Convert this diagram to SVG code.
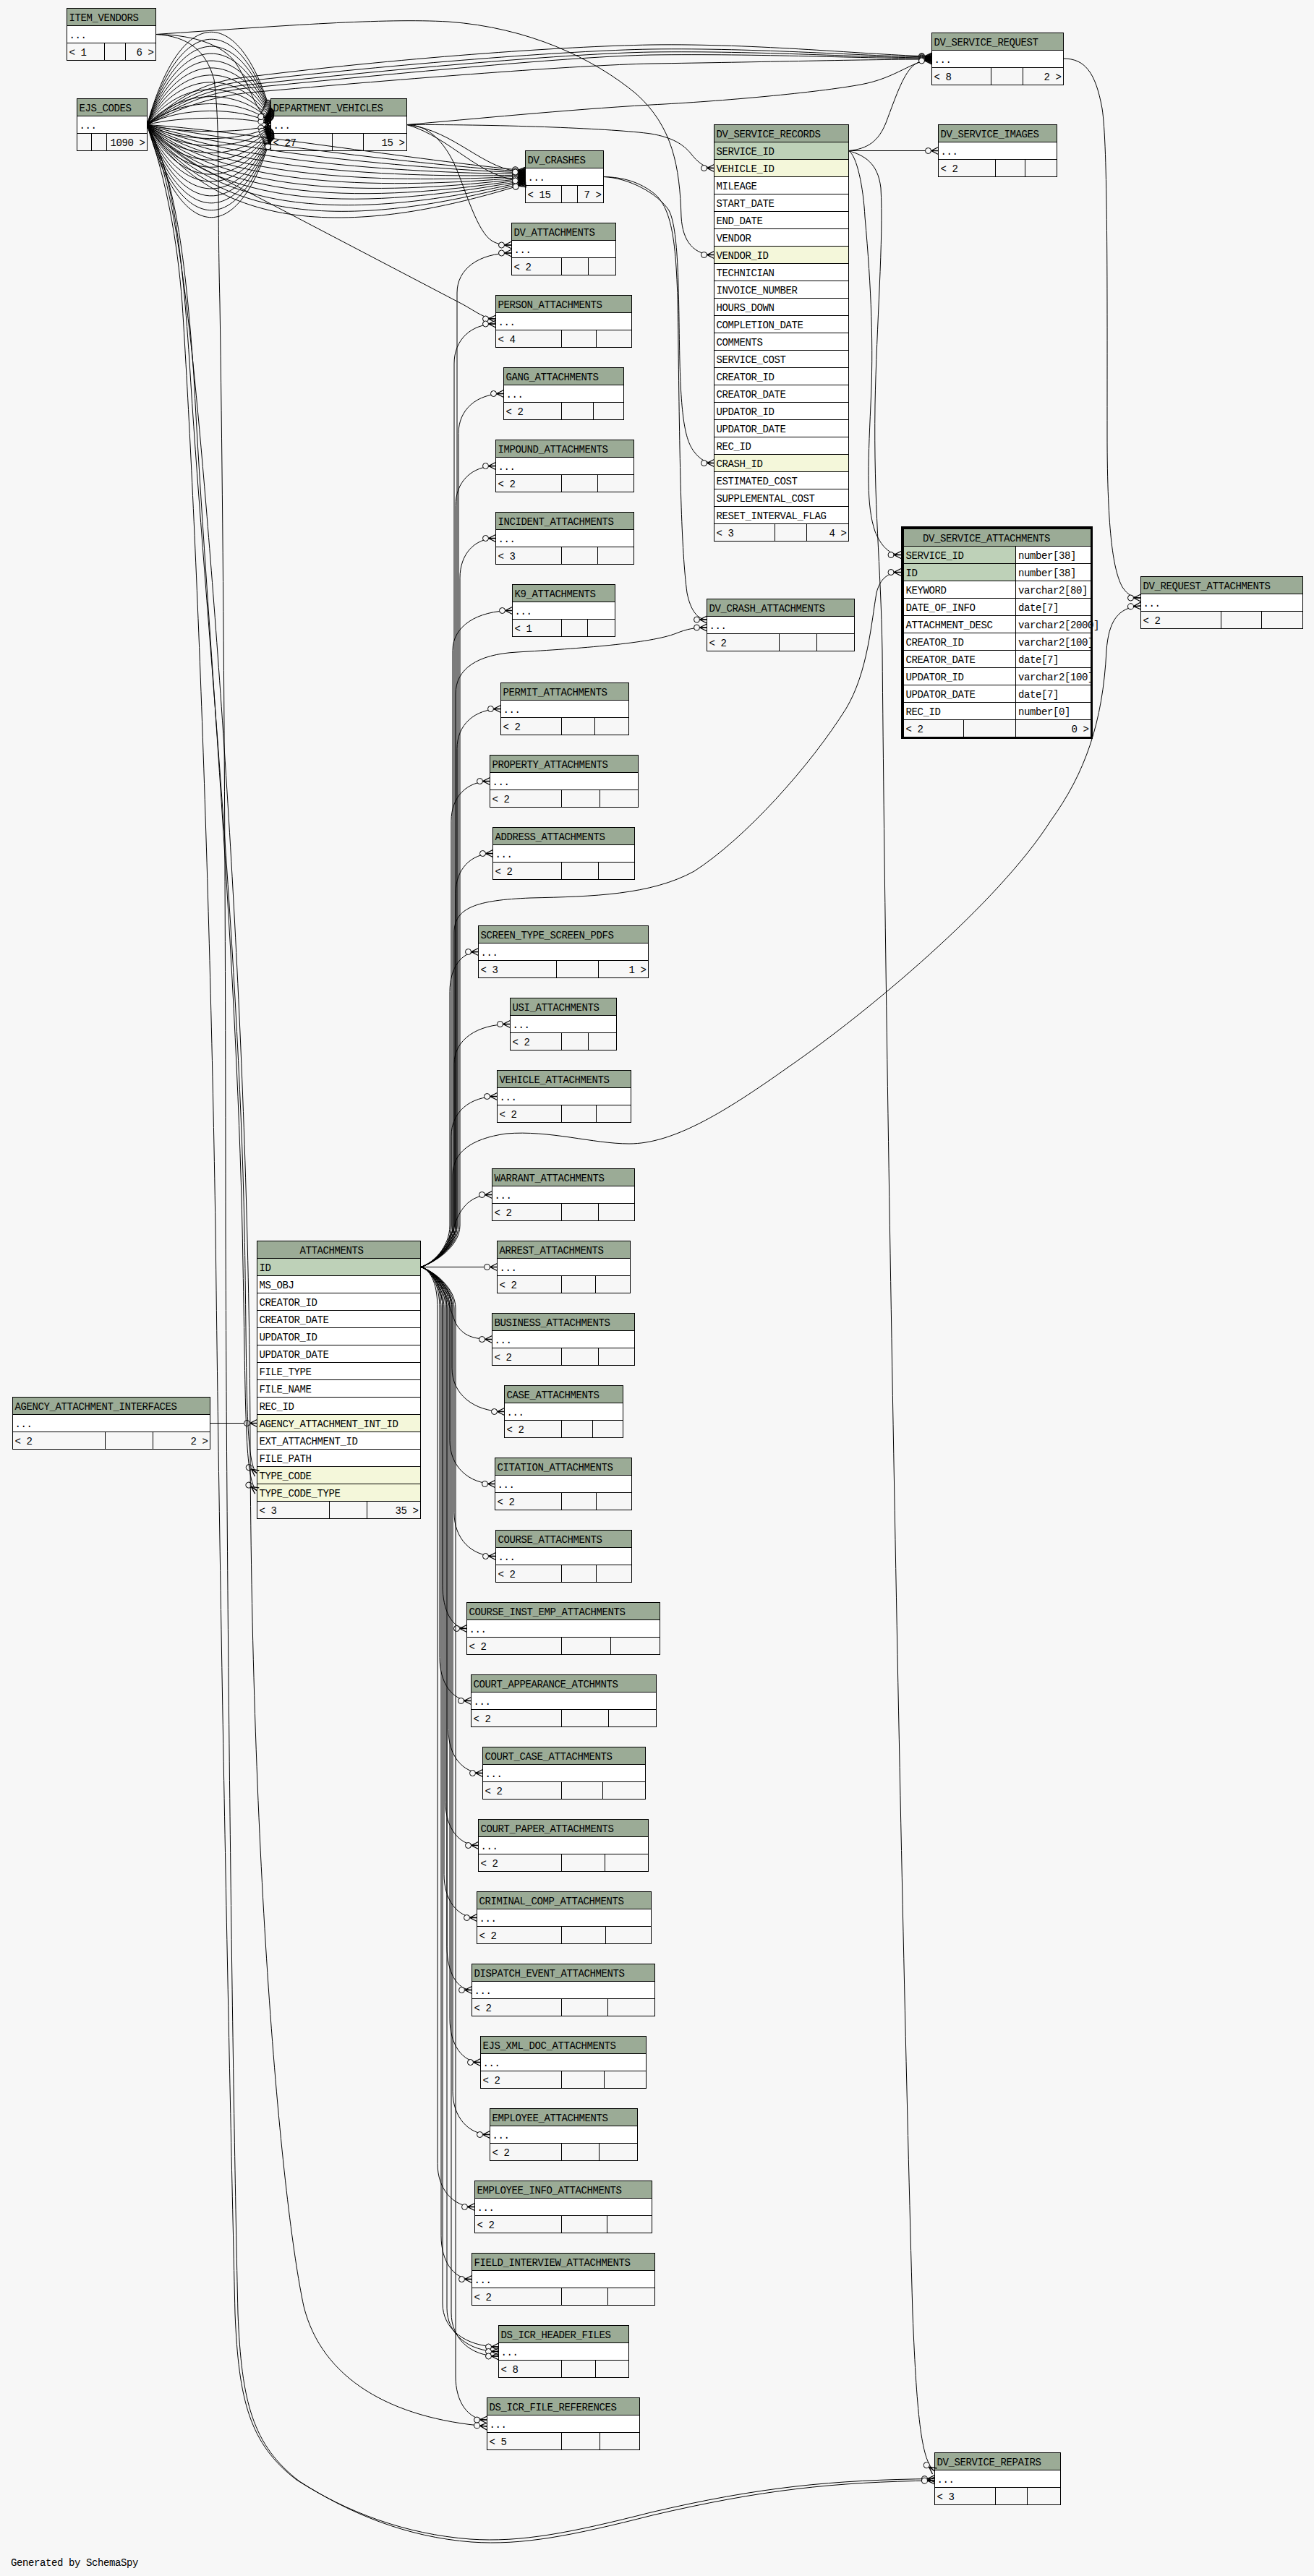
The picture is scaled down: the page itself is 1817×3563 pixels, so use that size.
<svg xmlns="http://www.w3.org/2000/svg" width="1817" height="3563" viewBox="0 0 1817 3563">
<style>
.t{font-family:"Liberation Mono","DejaVu Sans Mono",monospace;font-size:14px;letter-spacing:-0.4px;fill:#000}
.e{text-anchor:end}
.h{fill:#9bab96;stroke:#000;stroke-width:1}
.r{fill:#fff;stroke:#000;stroke-width:1}
.f{fill:#f7f7f7;stroke:#000;stroke-width:1}
.p{fill:#bed1b8;stroke:#000;stroke-width:1}
.k{fill:#f4f7da;stroke:#000;stroke-width:1}
.d{fill:none;stroke:#000;stroke-width:1}
.c{fill:none;stroke:#000;stroke-width:1;marker-end:url(#cf)}
</style>
<defs>
<marker id="cf" viewBox="-22 -8 24 16" refX="0" refY="0" markerWidth="24" markerHeight="16" markerUnits="userSpaceOnUse" orient="auto">
<path d="M-10,0L0,-5M-10,0L0,0M-10,0L0,5" fill="none" stroke="#000" stroke-width="1.3"/>
<circle cx="-14" cy="0" r="4" fill="#f7f7f7" stroke="#000" stroke-width="1"/>
</marker>
</defs>
<rect width="1817" height="3563" fill="#f7f7f7"/>
<g id="nodes">
<g id="ITEM_VENDORS" transform="translate(92.5,11.5)"><rect class="h" width="123" height="24"/><text class="t" x="3" y="17">ITEM_VENDORS</text><rect class="r" y="24" width="123" height="24"/><text class="t" x="3" y="41">...</text><rect class="f" y="48" width="123" height="24"/><path class="d" d="M52,48v24M81,48v24"/><text class="t" x="3" y="65">&lt; 1</text><text class="t e" x="120" y="65">6 &gt;</text></g>
<g id="EJS_CODES" transform="translate(106.5,136.5)"><rect class="h" width="97" height="24"/><text class="t" x="3" y="17">EJS_CODES</text><rect class="r" y="24" width="97" height="24"/><text class="t" x="3" y="41">...</text><rect class="f" y="48" width="97" height="24"/><path class="d" d="M20,48v24M41,48v24"/><text class="t e" x="94" y="65">1090 &gt;</text></g>
<g id="DEPARTMENT_VEHICLES" transform="translate(374.5,136.5)"><rect class="h" width="188" height="24"/><text class="t" x="3" y="17">DEPARTMENT_VEHICLES</text><rect class="r" y="24" width="188" height="24"/><text class="t" x="3" y="41">...</text><rect class="f" y="48" width="188" height="24"/><path class="d" d="M85,48v24M128,48v24"/><text class="t" x="3" y="65">&lt; 27</text><text class="t e" x="185" y="65">15 &gt;</text></g>
<g id="DV_CRASHES" transform="translate(726.5,208.5)"><rect class="h" width="108" height="24"/><text class="t" x="3" y="17">DV_CRASHES</text><rect class="r" y="24" width="108" height="24"/><text class="t" x="3" y="41">...</text><rect class="f" y="48" width="108" height="24"/><path class="d" d="M50,48v24M72,48v24"/><text class="t" x="3" y="65">&lt; 15</text><text class="t e" x="105" y="65">7 &gt;</text></g>
<g id="DV_ATTACHMENTS" transform="translate(707.5,308.5)"><rect class="h" width="144" height="24"/><text class="t" x="3" y="17">DV_ATTACHMENTS</text><rect class="r" y="24" width="144" height="24"/><text class="t" x="3" y="41">...</text><rect class="f" y="48" width="144" height="24"/><path class="d" d="M69,48v24M106,48v24"/><text class="t" x="3" y="65">&lt; 2</text></g>
<g id="DV_SERVICE_REQUEST" transform="translate(1288.5,45.5)"><rect class="h" width="182" height="24"/><text class="t" x="3" y="17">DV_SERVICE_REQUEST</text><rect class="r" y="24" width="182" height="24"/><text class="t" x="3" y="41">...</text><rect class="f" y="48" width="182" height="24"/><path class="d" d="M82,48v24M126,48v24"/><text class="t" x="3" y="65">&lt; 8</text><text class="t e" x="179" y="65">2 &gt;</text></g>
<g id="DV_SERVICE_IMAGES" transform="translate(1297.5,172.5)"><rect class="h" width="164" height="24"/><text class="t" x="3" y="17">DV_SERVICE_IMAGES</text><rect class="r" y="24" width="164" height="24"/><text class="t" x="3" y="41">...</text><rect class="f" y="48" width="164" height="24"/><path class="d" d="M79,48v24M120,48v24"/><text class="t" x="3" y="65">&lt; 2</text></g>
<g id="DV_SERVICE_RECORDS" transform="translate(987.5,172.5)">
<rect class="h" width="186" height="24"/><text class="t" x="3" y="17">DV_SERVICE_RECORDS</text>
<rect class="p" y="24" width="186" height="24"/><text class="t" x="3" y="41">SERVICE_ID</text>
<rect class="k" y="48" width="186" height="24"/><text class="t" x="3" y="65">VEHICLE_ID</text>
<rect class="r" y="72" width="186" height="24"/><text class="t" x="3" y="89">MILEAGE</text>
<rect class="r" y="96" width="186" height="24"/><text class="t" x="3" y="113">START_DATE</text>
<rect class="r" y="120" width="186" height="24"/><text class="t" x="3" y="137">END_DATE</text>
<rect class="r" y="144" width="186" height="24"/><text class="t" x="3" y="161">VENDOR</text>
<rect class="k" y="168" width="186" height="24"/><text class="t" x="3" y="185">VENDOR_ID</text>
<rect class="r" y="192" width="186" height="24"/><text class="t" x="3" y="209">TECHNICIAN</text>
<rect class="r" y="216" width="186" height="24"/><text class="t" x="3" y="233">INVOICE_NUMBER</text>
<rect class="r" y="240" width="186" height="24"/><text class="t" x="3" y="257">HOURS_DOWN</text>
<rect class="r" y="264" width="186" height="24"/><text class="t" x="3" y="281">COMPLETION_DATE</text>
<rect class="r" y="288" width="186" height="24"/><text class="t" x="3" y="305">COMMENTS</text>
<rect class="r" y="312" width="186" height="24"/><text class="t" x="3" y="329">SERVICE_COST</text>
<rect class="r" y="336" width="186" height="24"/><text class="t" x="3" y="353">CREATOR_ID</text>
<rect class="r" y="360" width="186" height="24"/><text class="t" x="3" y="377">CREATOR_DATE</text>
<rect class="r" y="384" width="186" height="24"/><text class="t" x="3" y="401">UPDATOR_ID</text>
<rect class="r" y="408" width="186" height="24"/><text class="t" x="3" y="425">UPDATOR_DATE</text>
<rect class="r" y="432" width="186" height="24"/><text class="t" x="3" y="449">REC_ID</text>
<rect class="k" y="456" width="186" height="24"/><text class="t" x="3" y="473">CRASH_ID</text>
<rect class="r" y="480" width="186" height="24"/><text class="t" x="3" y="497">ESTIMATED_COST</text>
<rect class="r" y="504" width="186" height="24"/><text class="t" x="3" y="521">SUPPLEMENTAL_COST</text>
<rect class="r" y="528" width="186" height="24"/><text class="t" x="3" y="545">RESET_INTERVAL_FLAG</text>
<rect class="f" y="552" width="186" height="24"/><path class="d" d="M84,552v24M128,552v24"/><text class="t" x="3" y="569">&lt; 3</text><text class="t e" x="183" y="569">4 &gt;</text>
</g>
<g id="DV_SERVICE_ATTACHMENTS" transform="translate(1249.5,731.5)">
<rect class="h" width="259" height="24"/><text class="t" x="26.5" y="17">DV_SERVICE_ATTACHMENTS</text>
<rect class="p" y="24" width="155" height="24"/><rect class="r" x="155" y="24" width="104" height="24"/><text class="t" x="3" y="41">SERVICE_ID</text><text class="t" x="158.5" y="41">number[38]</text>
<rect class="p" y="48" width="155" height="24"/><rect class="r" x="155" y="48" width="104" height="24"/><text class="t" x="3" y="65">ID</text><text class="t" x="158.5" y="65">number[38]</text>
<rect class="r" y="72" width="155" height="24"/><rect class="r" x="155" y="72" width="104" height="24"/><text class="t" x="3" y="89">KEYWORD</text><text class="t" x="158.5" y="89">varchar2[80]</text>
<rect class="r" y="96" width="155" height="24"/><rect class="r" x="155" y="96" width="104" height="24"/><text class="t" x="3" y="113">DATE_OF_INFO</text><text class="t" x="158.5" y="113">date[7]</text>
<rect class="r" y="120" width="155" height="24"/><rect class="r" x="155" y="120" width="104" height="24"/><text class="t" x="3" y="137">ATTACHMENT_DESC</text><text class="t" x="158.5" y="137">varchar2[2000]</text>
<rect class="r" y="144" width="155" height="24"/><rect class="r" x="155" y="144" width="104" height="24"/><text class="t" x="3" y="161">CREATOR_ID</text><text class="t" x="158.5" y="161">varchar2[100]</text>
<rect class="r" y="168" width="155" height="24"/><rect class="r" x="155" y="168" width="104" height="24"/><text class="t" x="3" y="185">CREATOR_DATE</text><text class="t" x="158.5" y="185">date[7]</text>
<rect class="r" y="192" width="155" height="24"/><rect class="r" x="155" y="192" width="104" height="24"/><text class="t" x="3" y="209">UPDATOR_ID</text><text class="t" x="158.5" y="209">varchar2[100]</text>
<rect class="r" y="216" width="155" height="24"/><rect class="r" x="155" y="216" width="104" height="24"/><text class="t" x="3" y="233">UPDATOR_DATE</text><text class="t" x="158.5" y="233">date[7]</text>
<rect class="r" y="240" width="155" height="24"/><rect class="r" x="155" y="240" width="104" height="24"/><text class="t" x="3" y="257">REC_ID</text><text class="t" x="158.5" y="257">number[0]</text>
<rect class="f" y="264" width="259" height="24"/><path class="d" d="M83,264v24M155,264v24"/><text class="t" x="3" y="281">&lt; 2</text><text class="t e" x="256" y="281">0 &gt;</text>
<rect x="-2" y="-2" width="262" height="291" fill="none" stroke="#000" stroke-width="3"/>
</g>
<g id="DV_REQUEST_ATTACHMENTS" transform="translate(1577.5,797.5)"><rect class="h" width="224" height="24"/><text class="t" x="3" y="17">DV_REQUEST_ATTACHMENTS</text><rect class="r" y="24" width="224" height="24"/><text class="t" x="3" y="41">...</text><rect class="f" y="48" width="224" height="24"/><path class="d" d="M111,48v24M167,48v24"/><text class="t" x="3" y="65">&lt; 2</text></g>
<g id="DV_CRASH_ATTACHMENTS" transform="translate(977.5,828.5)"><rect class="h" width="204" height="24"/><text class="t" x="3" y="17">DV_CRASH_ATTACHMENTS</text><rect class="r" y="24" width="204" height="24"/><text class="t" x="3" y="41">...</text><rect class="f" y="48" width="204" height="24"/><path class="d" d="M100,48v24M152,48v24"/><text class="t" x="3" y="65">&lt; 2</text></g>
<g id="PERSON_ATTACHMENTS" transform="translate(685.5,408.5)"><rect class="h" width="188" height="24"/><text class="t" x="3" y="17">PERSON_ATTACHMENTS</text><rect class="r" y="24" width="188" height="24"/><text class="t" x="3" y="41">...</text><rect class="f" y="48" width="188" height="24"/><path class="d" d="M91,48v24M139,48v24"/><text class="t" x="3" y="65">&lt; 4</text></g>
<g id="GANG_ATTACHMENTS" transform="translate(696.5,508.5)"><rect class="h" width="166" height="24"/><text class="t" x="3" y="17">GANG_ATTACHMENTS</text><rect class="r" y="24" width="166" height="24"/><text class="t" x="3" y="41">...</text><rect class="f" y="48" width="166" height="24"/><path class="d" d="M80,48v24M124,48v24"/><text class="t" x="3" y="65">&lt; 2</text></g>
<g id="IMPOUND_ATTACHMENTS" transform="translate(685.5,608.5)"><rect class="h" width="191" height="24"/><text class="t" x="3" y="17">IMPOUND_ATTACHMENTS</text><rect class="r" y="24" width="191" height="24"/><text class="t" x="3" y="41">...</text><rect class="f" y="48" width="191" height="24"/><path class="d" d="M91,48v24M141,48v24"/><text class="t" x="3" y="65">&lt; 2</text></g>
<g id="INCIDENT_ATTACHMENTS" transform="translate(685.5,708.5)"><rect class="h" width="191" height="24"/><text class="t" x="3" y="17">INCIDENT_ATTACHMENTS</text><rect class="r" y="24" width="191" height="24"/><text class="t" x="3" y="41">...</text><rect class="f" y="48" width="191" height="24"/><path class="d" d="M91,48v24M141,48v24"/><text class="t" x="3" y="65">&lt; 3</text></g>
<g id="K9_ATTACHMENTS" transform="translate(708.5,808.5)"><rect class="h" width="142" height="24"/><text class="t" x="3" y="17">K9_ATTACHMENTS</text><rect class="r" y="24" width="142" height="24"/><text class="t" x="3" y="41">...</text><rect class="f" y="48" width="142" height="24"/><path class="d" d="M68,48v24M104,48v24"/><text class="t" x="3" y="65">&lt; 1</text></g>
<g id="PERMIT_ATTACHMENTS" transform="translate(692.5,944.5)"><rect class="h" width="177" height="24"/><text class="t" x="3" y="17">PERMIT_ATTACHMENTS</text><rect class="r" y="24" width="177" height="24"/><text class="t" x="3" y="41">...</text><rect class="f" y="48" width="177" height="24"/><path class="d" d="M84,48v24M130,48v24"/><text class="t" x="3" y="65">&lt; 2</text></g>
<g id="PROPERTY_ATTACHMENTS" transform="translate(677.5,1044.5)"><rect class="h" width="205" height="24"/><text class="t" x="3" y="17">PROPERTY_ATTACHMENTS</text><rect class="r" y="24" width="205" height="24"/><text class="t" x="3" y="41">...</text><rect class="f" y="48" width="205" height="24"/><path class="d" d="M99,48v24M152,48v24"/><text class="t" x="3" y="65">&lt; 2</text></g>
<g id="ADDRESS_ATTACHMENTS" transform="translate(681.5,1144.5)"><rect class="h" width="196" height="24"/><text class="t" x="3" y="17">ADDRESS_ATTACHMENTS</text><rect class="r" y="24" width="196" height="24"/><text class="t" x="3" y="41">...</text><rect class="f" y="48" width="196" height="24"/><path class="d" d="M95,48v24M146,48v24"/><text class="t" x="3" y="65">&lt; 2</text></g>
<g id="SCREEN_TYPE_SCREEN_PDFS" transform="translate(661.5,1280.5)"><rect class="h" width="235" height="24"/><text class="t" x="3" y="17">SCREEN_TYPE_SCREEN_PDFS</text><rect class="r" y="24" width="235" height="24"/><text class="t" x="3" y="41">...</text><rect class="f" y="48" width="235" height="24"/><path class="d" d="M108,48v24M166,48v24"/><text class="t" x="3" y="65">&lt; 3</text><text class="t e" x="232" y="65">1 &gt;</text></g>
<g id="USI_ATTACHMENTS" transform="translate(705.5,1380.5)"><rect class="h" width="147" height="24"/><text class="t" x="3" y="17">USI_ATTACHMENTS</text><rect class="r" y="24" width="147" height="24"/><text class="t" x="3" y="41">...</text><rect class="f" y="48" width="147" height="24"/><path class="d" d="M71,48v24M108,48v24"/><text class="t" x="3" y="65">&lt; 2</text></g>
<g id="VEHICLE_ATTACHMENTS" transform="translate(687.5,1480.5)"><rect class="h" width="185" height="24"/><text class="t" x="3" y="17">VEHICLE_ATTACHMENTS</text><rect class="r" y="24" width="185" height="24"/><text class="t" x="3" y="41">...</text><rect class="f" y="48" width="185" height="24"/><path class="d" d="M89,48v24M137,48v24"/><text class="t" x="3" y="65">&lt; 2</text></g>
<g id="WARRANT_ATTACHMENTS" transform="translate(680.5,1616.5)"><rect class="h" width="197" height="24"/><text class="t" x="3" y="17">WARRANT_ATTACHMENTS</text><rect class="r" y="24" width="197" height="24"/><text class="t" x="3" y="41">...</text><rect class="f" y="48" width="197" height="24"/><path class="d" d="M96,48v24M147,48v24"/><text class="t" x="3" y="65">&lt; 2</text></g>
<g id="ARREST_ATTACHMENTS" transform="translate(687.5,1716.5)"><rect class="h" width="184" height="24"/><text class="t" x="3" y="17">ARREST_ATTACHMENTS</text><rect class="r" y="24" width="184" height="24"/><text class="t" x="3" y="41">...</text><rect class="f" y="48" width="184" height="24"/><path class="d" d="M89,48v24M136,48v24"/><text class="t" x="3" y="65">&lt; 2</text></g>
<g id="BUSINESS_ATTACHMENTS" transform="translate(680.5,1816.5)"><rect class="h" width="197" height="24"/><text class="t" x="3" y="17">BUSINESS_ATTACHMENTS</text><rect class="r" y="24" width="197" height="24"/><text class="t" x="3" y="41">...</text><rect class="f" y="48" width="197" height="24"/><path class="d" d="M96,48v24M147,48v24"/><text class="t" x="3" y="65">&lt; 2</text></g>
<g id="CASE_ATTACHMENTS" transform="translate(697.5,1916.5)"><rect class="h" width="164" height="24"/><text class="t" x="3" y="17">CASE_ATTACHMENTS</text><rect class="r" y="24" width="164" height="24"/><text class="t" x="3" y="41">...</text><rect class="f" y="48" width="164" height="24"/><path class="d" d="M79,48v24M122,48v24"/><text class="t" x="3" y="65">&lt; 2</text></g>
<g id="CITATION_ATTACHMENTS" transform="translate(684.5,2016.5)"><rect class="h" width="189" height="24"/><text class="t" x="3" y="17">CITATION_ATTACHMENTS</text><rect class="r" y="24" width="189" height="24"/><text class="t" x="3" y="41">...</text><rect class="f" y="48" width="189" height="24"/><path class="d" d="M92,48v24M140,48v24"/><text class="t" x="3" y="65">&lt; 2</text></g>
<g id="COURSE_ATTACHMENTS" transform="translate(685.5,2116.5)"><rect class="h" width="188" height="24"/><text class="t" x="3" y="17">COURSE_ATTACHMENTS</text><rect class="r" y="24" width="188" height="24"/><text class="t" x="3" y="41">...</text><rect class="f" y="48" width="188" height="24"/><path class="d" d="M91,48v24M139,48v24"/><text class="t" x="3" y="65">&lt; 2</text></g>
<g id="COURSE_INST_EMP_ATTACHMENTS" transform="translate(645.5,2216.5)"><rect class="h" width="267" height="24"/><text class="t" x="3" y="17">COURSE_INST_EMP_ATTACHMENTS</text><rect class="r" y="24" width="267" height="24"/><text class="t" x="3" y="41">...</text><rect class="f" y="48" width="267" height="24"/><path class="d" d="M131,48v24M199,48v24"/><text class="t" x="3" y="65">&lt; 2</text></g>
<g id="COURT_APPEARANCE_ATCHMNTS" transform="translate(651.5,2316.5)"><rect class="h" width="256" height="24"/><text class="t" x="3" y="17">COURT_APPEARANCE_ATCHMNTS</text><rect class="r" y="24" width="256" height="24"/><text class="t" x="3" y="41">...</text><rect class="f" y="48" width="256" height="24"/><path class="d" d="M125,48v24M190,48v24"/><text class="t" x="3" y="65">&lt; 2</text></g>
<g id="COURT_CASE_ATTACHMENTS" transform="translate(667.5,2416.5)"><rect class="h" width="225" height="24"/><text class="t" x="3" y="17">COURT_CASE_ATTACHMENTS</text><rect class="r" y="24" width="225" height="24"/><text class="t" x="3" y="41">...</text><rect class="f" y="48" width="225" height="24"/><path class="d" d="M109,48v24M166,48v24"/><text class="t" x="3" y="65">&lt; 2</text></g>
<g id="COURT_PAPER_ATTACHMENTS" transform="translate(661.5,2516.5)"><rect class="h" width="235" height="24"/><text class="t" x="3" y="17">COURT_PAPER_ATTACHMENTS</text><rect class="r" y="24" width="235" height="24"/><text class="t" x="3" y="41">...</text><rect class="f" y="48" width="235" height="24"/><path class="d" d="M115,48v24M175,48v24"/><text class="t" x="3" y="65">&lt; 2</text></g>
<g id="CRIMINAL_COMP_ATTACHMENTS" transform="translate(659.5,2616.5)"><rect class="h" width="241" height="24"/><text class="t" x="3" y="17">CRIMINAL_COMP_ATTACHMENTS</text><rect class="r" y="24" width="241" height="24"/><text class="t" x="3" y="41">...</text><rect class="f" y="48" width="241" height="24"/><path class="d" d="M117,48v24M178,48v24"/><text class="t" x="3" y="65">&lt; 2</text></g>
<g id="DISPATCH_EVENT_ATTACHMENTS" transform="translate(652.5,2716.5)"><rect class="h" width="253" height="24"/><text class="t" x="3" y="17">DISPATCH_EVENT_ATTACHMENTS</text><rect class="r" y="24" width="253" height="24"/><text class="t" x="3" y="41">...</text><rect class="f" y="48" width="253" height="24"/><path class="d" d="M124,48v24M188,48v24"/><text class="t" x="3" y="65">&lt; 2</text></g>
<g id="EJS_XML_DOC_ATTACHMENTS" transform="translate(664.5,2816.5)"><rect class="h" width="229" height="24"/><text class="t" x="3" y="17">EJS_XML_DOC_ATTACHMENTS</text><rect class="r" y="24" width="229" height="24"/><text class="t" x="3" y="41">...</text><rect class="f" y="48" width="229" height="24"/><path class="d" d="M112,48v24M171,48v24"/><text class="t" x="3" y="65">&lt; 2</text></g>
<g id="EMPLOYEE_ATTACHMENTS" transform="translate(677.5,2916.5)"><rect class="h" width="204" height="24"/><text class="t" x="3" y="17">EMPLOYEE_ATTACHMENTS</text><rect class="r" y="24" width="204" height="24"/><text class="t" x="3" y="41">...</text><rect class="f" y="48" width="204" height="24"/><path class="d" d="M99,48v24M151,48v24"/><text class="t" x="3" y="65">&lt; 2</text></g>
<g id="EMPLOYEE_INFO_ATTACHMENTS" transform="translate(656.5,3016.5)"><rect class="h" width="245" height="24"/><text class="t" x="3" y="17">EMPLOYEE_INFO_ATTACHMENTS</text><rect class="r" y="24" width="245" height="24"/><text class="t" x="3" y="41">...</text><rect class="f" y="48" width="245" height="24"/><path class="d" d="M120,48v24M183,48v24"/><text class="t" x="3" y="65">&lt; 2</text></g>
<g id="FIELD_INTERVIEW_ATTACHMENTS" transform="translate(652.5,3116.5)"><rect class="h" width="253" height="24"/><text class="t" x="3" y="17">FIELD_INTERVIEW_ATTACHMENTS</text><rect class="r" y="24" width="253" height="24"/><text class="t" x="3" y="41">...</text><rect class="f" y="48" width="253" height="24"/><path class="d" d="M124,48v24M188,48v24"/><text class="t" x="3" y="65">&lt; 2</text></g>
<g id="DS_ICR_HEADER_FILES" transform="translate(689.5,3216.5)"><rect class="h" width="180" height="24"/><text class="t" x="3" y="17">DS_ICR_HEADER_FILES</text><rect class="r" y="24" width="180" height="24"/><text class="t" x="3" y="41">...</text><rect class="f" y="48" width="180" height="24"/><path class="d" d="M87,48v24M134,48v24"/><text class="t" x="3" y="65">&lt; 8</text></g>
<g id="DS_ICR_FILE_REFERENCES" transform="translate(673.5,3316.5)"><rect class="h" width="211" height="24"/><text class="t" x="3" y="17">DS_ICR_FILE_REFERENCES</text><rect class="r" y="24" width="211" height="24"/><text class="t" x="3" y="41">...</text><rect class="f" y="48" width="211" height="24"/><path class="d" d="M103,48v24M156,48v24"/><text class="t" x="3" y="65">&lt; 5</text></g>
<g id="DV_SERVICE_REPAIRS" transform="translate(1292.5,3392.5)"><rect class="h" width="174" height="24"/><text class="t" x="3" y="17">DV_SERVICE_REPAIRS</text><rect class="r" y="24" width="174" height="24"/><text class="t" x="3" y="41">...</text><rect class="f" y="48" width="174" height="24"/><path class="d" d="M84,48v24M128,48v24"/><text class="t" x="3" y="65">&lt; 3</text></g>
<g id="AGENCY_ATTACHMENT_INTERFACES" transform="translate(17.5,1932.5)"><rect class="h" width="273" height="24"/><text class="t" x="3" y="17">AGENCY_ATTACHMENT_INTERFACES</text><rect class="r" y="24" width="273" height="24"/><text class="t" x="3" y="41">...</text><rect class="f" y="48" width="273" height="24"/><path class="d" d="M128,48v24M194,48v24"/><text class="t" x="3" y="65">&lt; 2</text><text class="t e" x="270" y="65">2 &gt;</text></g>
<g id="ATTACHMENTS" transform="translate(355.5,1716.5)">
<rect class="h" width="226" height="24"/><text class="t" x="59" y="17">ATTACHMENTS</text>
<rect class="p" y="24" width="226" height="24"/><text class="t" x="3" y="41">ID</text>
<rect class="r" y="48" width="226" height="24"/><text class="t" x="3" y="65">MS_OBJ</text>
<rect class="r" y="72" width="226" height="24"/><text class="t" x="3" y="89">CREATOR_ID</text>
<rect class="r" y="96" width="226" height="24"/><text class="t" x="3" y="113">CREATOR_DATE</text>
<rect class="r" y="120" width="226" height="24"/><text class="t" x="3" y="137">UPDATOR_ID</text>
<rect class="r" y="144" width="226" height="24"/><text class="t" x="3" y="161">UPDATOR_DATE</text>
<rect class="r" y="168" width="226" height="24"/><text class="t" x="3" y="185">FILE_TYPE</text>
<rect class="r" y="192" width="226" height="24"/><text class="t" x="3" y="209">FILE_NAME</text>
<rect class="r" y="216" width="226" height="24"/><text class="t" x="3" y="233">REC_ID</text>
<rect class="k" y="240" width="226" height="24"/><text class="t" x="3" y="257">AGENCY_ATTACHMENT_INT_ID</text>
<rect class="r" y="264" width="226" height="24"/><text class="t" x="3" y="281">EXT_ATTACHMENT_ID</text>
<rect class="r" y="288" width="226" height="24"/><text class="t" x="3" y="305">FILE_PATH</text>
<rect class="k" y="312" width="226" height="24"/><text class="t" x="3" y="329">TYPE_CODE</text>
<rect class="k" y="336" width="226" height="24"/><text class="t" x="3" y="353">TYPE_CODE_TYPE</text>
<rect class="f" y="360" width="226" height="24"/><path class="d" d="M100,360v24M152,360v24"/><text class="t" x="3" y="377">&lt; 3</text><text class="t e" x="223" y="377">35 &gt;</text>
</g>
</g>
<g id="connectors">
<path class="c" d="M203.5,172.5C250,4.5 330,4.5 374.5,155.7"/>
<path class="c" d="M203.5,172.5C250,17.5 330,17.5 374.5,157"/>
<path class="c" d="M203.5,172.5C250,30.5 330,30.5 374.5,158.3"/>
<path class="c" d="M203.5,172.5C250,43.5 330,43.5 374.5,159.6"/>
<path class="c" d="M203.5,172.5C250,56.5 330,56.5 374.5,160.9"/>
<path class="c" d="M203.5,172.5C250,69.5 330,69.5 374.5,162.2"/>
<path class="c" d="M203.5,172.5C250,82.5 330,82.5 374.5,163.5"/>
<path class="c" d="M203.5,172.5C250,95.5 330,95.5 374.5,164.8"/>
<path class="c" d="M203.5,172.5C250,108.5 330,108.5 374.5,166.1"/>
<path class="c" d="M203.5,172.5C250,121.5 330,121.5 374.5,167.4"/>
<path class="c" d="M203.5,172.5C250,134.5 330,134.5 374.5,168.7"/>
<path class="c" d="M203.5,172.5C250,147.5 330,147.5 374.5,170"/>
<path class="c" d="M203.5,172.5C250,160.5 330,160.5 374.5,171.3"/>
<path class="c" d="M203.5,172.5C250,184.5 330,184.5 374.5,173.7"/>
<path class="c" d="M203.5,172.5C250,197.5 330,197.5 374.5,175"/>
<path class="c" d="M203.5,172.5C250,210.5 330,210.5 374.5,176.3"/>
<path class="c" d="M203.5,172.5C250,223.5 330,223.5 374.5,177.6"/>
<path class="c" d="M203.5,172.5C250,236.5 330,236.5 374.5,178.9"/>
<path class="c" d="M203.5,172.5C250,249.5 330,249.5 374.5,180.2"/>
<path class="c" d="M203.5,172.5C250,262.5 330,262.5 374.5,181.5"/>
<path class="c" d="M203.5,172.5C250,275.5 330,275.5 374.5,182.8"/>
<path class="c" d="M203.5,172.5C250,288.5 330,288.5 374.5,184.1"/>
<path class="c" d="M203.5,172.5C250,301.5 330,301.5 374.5,185.4"/>
<path class="c" d="M203.5,172.5C250,314.5 330,314.5 374.5,186.7"/>
<path class="c" d="M203.5,172.5C250,327.5 330,327.5 374.5,188"/>
<path class="c" d="M203.5,172.5C250,340.5 330,340.5 374.5,189.3"/>
<path class="c" d="M215.5,47.5C260,48 300,58 322,82C345,110 352,160 374.5,164"/>
<path class="c" d="M203.5,172.5C320,180 580,222 726.5,236"/>
<path class="c" d="M203.5,172.5C320,195 580,228 726.5,237.5"/>
<path class="c" d="M203.5,172.5C320,210 580,234 726.5,239"/>
<path class="c" d="M203.5,172.5C320,225 580,240 726.5,240.5"/>
<path class="c" d="M203.5,172.5C320,240 580,246 726.5,242"/>
<path class="c" d="M203.5,172.5C320,255 580,252 726.5,243.5"/>
<path class="c" d="M203.5,172.5C320,270 580,258 726.5,245"/>
<path class="c" d="M203.5,172.5C320,285 580,264 726.5,246.5"/>
<path class="c" d="M203.5,172.5C320,300 580,270 726.5,248"/>
<path class="c" d="M203.5,172.5C320,315 580,276 726.5,249.5"/>
<path class="c" d="M203.5,172.5C320,330 580,284 726.5,251"/>
<path class="c" d="M203.5,172.5C320,345 580,292 726.5,252.5"/>
<path class="c" d="M203.5,172.5C320,360 580,300 726.5,254"/>
<path class="c" d="M562.5,172.5C630,180 670,238 726.5,238"/>
<path class="c" d="M562.5,172.5C625,190 665,250 726.5,250"/>
<path class="c" d="M203.5,172.5C245,135 280,115 330,108C550,80 780,64 900,62C1050,60 1200,76 1288.5,78"/>
<path class="c" d="M203.5,172.5C245,138 282,120 333,113C555,88 785,70 900,68C1050,66 1200,78 1288.5,79"/>
<path class="c" d="M203.5,172.5C247,141 285,124 336,118C560,94 790,74 900,72C1050,70 1200,80 1288.5,80"/>
<path class="c" d="M203.5,172.5C249,144 288,128 340,122C565,100 795,78 900,76C1050,74 1200,81 1288.5,81"/>
<path class="c" d="M203.5,172.5C251,148 292,134 345,128C570,108 800,90 900,88C1050,86 1200,82 1288.5,82"/>
<path class="c" d="M562.5,172.5C650,165 780,152 900,145C1000,140 1130,128 1190,117C1240,108 1262,83 1288.5,83"/>
<path class="c" d="M1173.5,208.5C1200,206 1215,195 1225,170C1240,130 1250,100 1265,89C1272,84 1280,84 1288.5,84"/>
<path class="c" d="M215.5,47.5C400,35 530,25 620,30C730,38 820,80 880,130C930,175 940,230 942,300C944,335 960,352.5 987.5,352.5"/>
<path class="c" d="M562.5,172.5C700,172 850,178 900,185C930,190 945,200 955,212C965,225 975,232.5 987.5,232.5"/>
<path class="c" d="M562.5,172.5C590,172 615,195 631,233C645,267 660,320 680,333C688,338 697,339 707.5,339"/>
<path class="c" d="M834.5,244.5C870,246 910,268 925,291C940,320 938,420 940,500C942,580 948,610 960,625C968,636 978,640.5 987.5,640.5"/>
<path class="c" d="M834.5,244.5C862,245 885,252 905,268C933,292 937,350 938,480C940,650 942,760 950,820C955,845 965,857 977.5,857"/>
<path class="c" d="M1173.5,208.5L1297.5,208.5"/>
<path class="c" d="M1173.5,208.5C1185,215 1194,260 1196,300C1205,400 1208,480 1204,560C1200,650 1198,700 1210,735C1218,755 1230,767.5 1246,767.5"/>
<path class="c" d="M1173.5,208.5C1195,215 1214,225 1218,260C1222,330 1212,450 1210,560C1208,700 1218,780 1220,900C1225,1500 1245,2600 1262,3200C1268,3350 1275,3405 1292.5,3418"/>
<path class="c" d="M1470.5,81C1500,81 1515,100 1524,150C1532,200 1531,400 1531,600C1531,740 1540,790 1552,812C1560,824 1568,827 1577.5,827"/>
<path class="c" d="M290.5,1968.5L355.5,1968.5"/>
<path class="c" d="M203.5,172.5C225,195 245,212 275,230L640,421C660,432 670,441 685.5,441"/>
<path class="c" d="M203.5,172.5C235,230 250,320 262,500C280,800 330,1300 338,1700C342,1900 338,2025 355.5,2038"/>
<path class="c" d="M203.5,172.5C238,240 255,330 268,520C285,850 330,1350 336,1750C340,1950 338,2050 355.5,2062"/>
<path class="c" d="M203.5,172.5C240,250 260,400 285,700C310,1000 345,1500 346,2000C348,2600 390,3050 420,3190C445,3290 540,3345 673.5,3356"/>
<path class="c" d="M203.5,172.5C230,250 245,330 252,420C270,700 290,1200 298,1700C305,2300 318,2900 325,3200C330,3320 345,3380 410,3430C480,3475 560,3505 650,3512C720,3517 790,3503 900,3475C1050,3440 1150,3430 1292.5,3428.5"/>
<path class="c" d="M215.5,47.5C260,50 285,70 296,110C305,180 300,260 304,420C310,800 312,1300 312,1700C314,2300 322,2900 329,3200C334,3322 349,3382 414,3432C484,3477 562,3509 652,3516C722,3521 792,3507 902,3479C1052,3444 1152,3433 1292.5,3431"/>
<path class="c" d="M581.5,1752.5C598,1748 632,1725 632,1695L632,405C632,372 662,350 707.5,350"/>
<path class="c" d="M581.5,1752.5C598,1748 628,1725 628,1695L628,503C628,470 651,448 685.5,448"/>
<path class="c" d="M581.5,1752.5C598,1748 634,1725 634,1695L634,599.5C634,566.5 659,544.5 696.5,544.5"/>
<path class="c" d="M581.5,1752.5C598,1748 630,1725 630,1695L630,699.5C630,666.5 652,644.5 685.5,644.5"/>
<path class="c" d="M581.5,1752.5C598,1748 636,1725 636,1695L636,799.5C636,766.5 656,744.5 685.5,744.5"/>
<path class="c" d="M581.5,1752.5C598,1748 626,1725 626,1695L626,899.5C626,866.5 659,844.5 708.5,844.5"/>
<path class="c" d="M581.5,1752.5C598,1748 632,1725 632,1695L632,1035.5C632,1002.5 656,980.5 692.5,980.5"/>
<path class="c" d="M581.5,1752.5C598,1748 624,1725 624,1695L624,1135.5C624,1102.5 645,1080.5 677.5,1080.5"/>
<path class="c" d="M581.5,1752.5C598,1748 630,1725 630,1695L630,1235.5C630,1202.5 651,1180.5 681.5,1180.5"/>
<path class="c" d="M581.5,1752.5C598,1748 622,1725 622,1695L622,1371.5C622,1338.5 638,1316.5 661.5,1316.5"/>
<path class="c" d="M581.5,1752.5C598,1748 628,1725 628,1695L628,1471.5C628,1438.5 659,1416.5 705.5,1416.5"/>
<path class="c" d="M581.5,1752.5C598,1748 624,1725 624,1695L624,1571.5C624,1538.5 649,1516.5 687.5,1516.5"/>
<path class="c" d="M581.5,1752.5C605,1745 622,1720 630,1690C640,1665 655,1652.5 680.5,1652.5"/>
<path class="c" d="M581.5,1752.5L687.5,1752.5"/>
<path class="c" d="M581.5,1752.5C610,1760 618,1800 630,1830C640,1848 655,1852.5 680.5,1852.5"/>
<path class="c" d="M581.5,1752.5C598,1757 625,1780 625,1810L625,1892.5C625,1927.5 654,1952.5 697.5,1952.5"/>
<path class="c" d="M581.5,1752.5C598,1757 622,1780 622,1810L622,1992.5C622,2027.5 647,2052.5 684.5,2052.5"/>
<path class="c" d="M581.5,1752.5C598,1757 628,1780 628,1810L628,2092.5C628,2127.5 651,2152.5 685.5,2152.5"/>
<path class="c" d="M581.5,1752.5C598,1757 612,1780 612,1810L612,2192.5C612,2227.5 625,2252.5 645.5,2252.5"/>
<path class="c" d="M581.5,1752.5C598,1757 608,1780 608,1810L608,2292.5C608,2327.5 625,2352.5 651.5,2352.5"/>
<path class="c" d="M581.5,1752.5C598,1757 620,1780 620,1810L620,2392.5C620,2427.5 639,2452.5 667.5,2452.5"/>
<path class="c" d="M581.5,1752.5C598,1757 616,1780 616,1810L616,2492.5C616,2527.5 634,2552.5 661.5,2552.5"/>
<path class="c" d="M581.5,1752.5C598,1757 614,1780 614,1810L614,2592.5C614,2627.5 632,2652.5 659.5,2652.5"/>
<path class="c" d="M581.5,1752.5C598,1757 618,1780 618,1810L618,2692.5C618,2727.5 632,2752.5 652.5,2752.5"/>
<path class="c" d="M581.5,1752.5C598,1757 622,1780 622,1810L622,2792.5C622,2827.5 639,2852.5 664.5,2852.5"/>
<path class="c" d="M581.5,1752.5C598,1757 626,1780 626,1810L626,2892.5C626,2927.5 647,2952.5 677.5,2952.5"/>
<path class="c" d="M581.5,1752.5C598,1757 605,1780 605,1810L605,2992.5C605,3027.5 626,3052.5 656.5,3052.5"/>
<path class="c" d="M581.5,1752.5C598,1757 610,1780 610,1810L610,3092.5C610,3127.5 627,3152.5 652.5,3152.5"/>
<path class="c" d="M581.5,1752.5C598,1757 612,1780 612,1810L612,3186C612,3221 643,3246 689.5,3246"/>
<path class="c" d="M581.5,1752.5C598,1757 618,1780 618,1810L618,3192.5C618,3227.5 647,3252.5 689.5,3252.5"/>
<path class="c" d="M581.5,1752.5C598,1757 624,1780 624,1810L624,3199C624,3234 650,3259 689.5,3259"/>
<path class="c" d="M581.5,1752.5C598,1757 630,1780 630,1810L630,3287C630,3322 647,3347 673.5,3347"/>
<path class="c" d="M581.5,1752.5C598,1748 630,1725 630,1695L630,960C630,925 660,905 715,902C800,897 900,890 935,876C950,870 960,868 977.5,868"/>
<path class="c" d="M581.5,1752.5C598,1748 628,1725 628,1695L628,1290C628,1255 660,1245 733,1242C820,1240 900,1238 960,1205C1030,1160 1120,1060 1170,980C1200,930 1205,860 1212,820C1217,800 1228,791.5 1246,791.5"/>
<path class="c" d="M581.5,1752.5C598,1748 626,1725 626,1695L626,1625C626,1595 650,1575 700,1568C760,1563 820,1582 870,1582C930,1582 1000,1540 1090,1476C1200,1400 1380,1250 1453,1135C1500,1070 1525,1000 1530,900C1533,860 1545,840 1577.5,838"/>
</g>
<text class="t" x="15" y="3549">Generated by SchemaSpy</text>
</svg>
